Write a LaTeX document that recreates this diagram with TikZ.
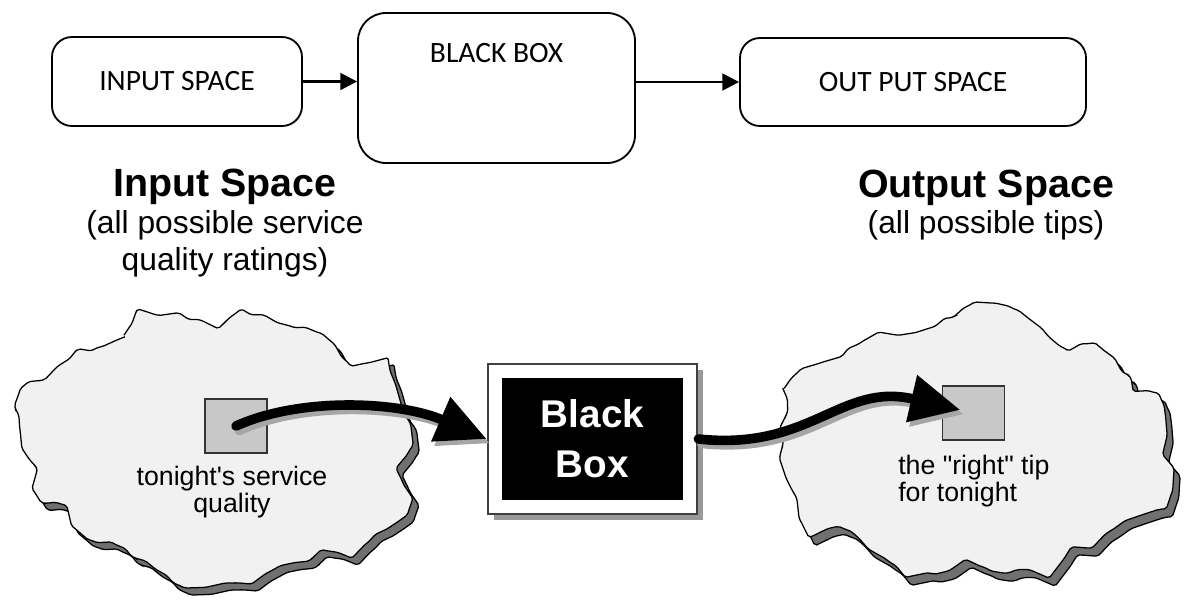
\documentclass[tikz,border=0pt]{standalone}
\usepackage{fontspec}
\setmainfont{Liberation Sans}[Ligatures=TeXOff]
\newfontfamily\calibri{Carlito}
\usetikzlibrary{positioning, arrows.meta, calc, fit, backgrounds, shadows, decorations.pathmorphing}
\definecolor{cloudfill}{RGB}{241,241,241}
\definecolor{cloudshade}{RGB}{112,112,112}
\definecolor{tipgray}{RGB}{200,200,200}

\tikzset{
  topbox/.style={draw, line width=1.3pt, rounded corners=5mm, font=\calibri\fontsize{21}{24}\selectfont},
  toparrow/.style={-{Triangle[length=4.2mm, width=4.2mm]}, line width=1.8pt},
  cloud/.style={fill=cloudfill, draw=black, line width=0.9pt, rounded corners=0.5mm,
    decorate, decoration={random steps, segment length=3mm, amplitude=0.7mm}},
  cloudshadow/.style={cloud, fill=cloudshade},
  valuebox/.style={fill=tipgray, draw=black!80, line width=1pt, minimum width=15.5mm, minimum height=13.5mm, inner sep=0pt},
  fatarrow/.style={-{Triangle[length=12.5mm, width=11.5mm]}, line width=2.4mm, line cap=round},
  heading/.style={align=center, font=\fontsize{22.6}{26}\selectfont},
  smalltext/.style={inner sep=0pt, font=\fontsize{19}{17.5}\selectfont}
}

% cloud outlines, one unit is one pixel
\def\leftcloud{(123,337) -- (137,310) -- (157,315) -- (177,313) -- (200,320) -- (217,328) -- (240,310) -- (263,315) -- (293,327) -- (320,333) -- (333,343) -- (350,365) -- (367,363) -- (387,358) -- (390,370) -- (395,383) -- (400,400) -- (410,423) -- (413,443) -- (408,453) -- (397,467) -- (403,483) -- (412,497) -- (408,513) -- (390,527) -- (367,543) -- (353,557) -- (323,550) -- (310,560) -- (283,565) -- (267,573) -- (253,583) -- (227,583) -- (207,587) -- (187,588) -- (157,570) -- (133,557) -- (113,543) -- (90,540) -- (73,527) -- (67,507) -- (43,503) -- (33,490) -- (37,470) -- (23,450) -- (20,430) -- (15,407) -- (20,390) -- (27,383) -- (43,380) -- (57,367) -- (77,350) -- (100,347) -- (117,340) -- cycle}
\def\rightcloud{(783,390) -- (790,380) -- (800,370) -- (820,363) -- (840,357) -- (860,343) -- (877,333) -- (897,335) -- (913,333) -- (933,327) -- (953,317) -- (973,303) -- (993,303) -- (1017,310) -- (1040,327) -- (1067,350) -- (1093,343) -- (1113,357) -- (1130,377) -- (1133,390) -- (1157,393) -- (1163,403) -- (1167,433) -- (1163,453) -- (1173,467) -- (1173,487) -- (1167,507) -- (1157,510) -- (1127,520) -- (1107,533) -- (1093,547) -- (1073,547) -- (1063,560) -- (1050,577) -- (1030,570) -- (1007,573) -- (983,567) -- (967,560) -- (950,570) -- (927,573) -- (907,577) -- (887,560) -- (870,550) -- (853,533) -- (840,527) -- (810,537) -- (800,520) -- (797,500) -- (787,480) -- (780,460) -- (783,443) -- (780,430) -- (787,413) -- cycle}

\begin{document}
\begin{tikzpicture}[x=0.25mm, y=-0.25mm]
  \useasboundingbox (0,0) rectangle (1187,600);

  % top row: block diagram
  \node[topbox, minimum width=62.5mm, minimum height=22.25mm] (inbox) at (177,81.5) {INPUT SPACE};
  \node[topbox, rounded corners=7mm, minimum width=69.25mm, minimum height=37.5mm,
    label={[font=\calibri\fontsize{21}{24}\selectfont, anchor=center, yshift=-10.25mm]north:BLACK BOX}] (blackbox) at (496.5,88) {};
  \node[topbox, minimum width=86.5mm, minimum height=22mm] (outbox) at (913,82) {OUT PUT SPACE};
  \draw[toparrow] (inbox.east) -- (inbox.east -| blackbox.west);
  \draw[toparrow] (blackbox.east |- outbox.west) -- (outbox.west);

  % headings
  \node[heading] (inhead) at (225,223) {{\bfseries\fontsize{28}{30}\selectfont Input Space}\\(all possible service\\quality ratings)};
  \node[heading] (outhead) at (986,205) {{\bfseries\fontsize{28}{30}\selectfont Output Space}\\(all possible tips)};

  % clouds with their shadows
  \pgfmathsetseed{17}
  \path[cloudshadow, shift={(6,7)}] \leftcloud;
  \pgfmathsetseed{17}
  \path[cloud] \leftcloud;
  \pgfmathsetseed{29}
  \path[cloudshadow, shift={(6,8)}] \rightcloud;
  \pgfmathsetseed{29}
  \path[cloud] \rightcloud;

  % values inside the clouds
  \node[valuebox] (insq) at (236,426) {};
  \node[valuebox] (outsq) at (973.5,413) {};
  \node[smalltext, align=center] (inlabel) at (232,492) {tonight's service\\quality};
  \node[smalltext, align=left, anchor=west] (outlabel) at (898,481) {the "right" tip\\for tonight};

  % the black box itself
  \node[fill=black, text=white, align=center, font=\bfseries\fontsize{27.5}{35.5}\selectfont,
    minimum width=45.25mm, minimum height=30.5mm] (bbox) at (592.5,439) {Black\\Box};
  \begin{scope}[on background layer]
    \node[fit=(bbox), inner sep=3.5mm, draw=black!75, line width=1.6pt, fill=white,
      drop shadow={shadow xshift=1.5mm, shadow yshift=-1.5mm, fill=black!40, opacity=1}] (bframe) {};
  \end{scope}

  % mapping arrows
  \draw[fatarrow, black!35, transform canvas={xshift=0.8mm, yshift=-1.1mm}]
    (insq.center) .. controls +(64,-29) and +(-88,-38) .. (bframe.west);
  \draw[fatarrow] (insq.center) .. controls +(64,-29) and +(-88,-38) .. (bframe.west);
  \draw[fatarrow, black!35, shorten >=3.4mm, transform canvas={xshift=0.8mm, yshift=-1.1mm}]
    (bframe.east) .. controls +(113,12) and +(-133,-31) .. (outsq.center);
  \draw[fatarrow, shorten >=3.4mm] (bframe.east) .. controls +(113,12) and +(-133,-31) .. (outsq.center);
\end{tikzpicture}
\end{document}
